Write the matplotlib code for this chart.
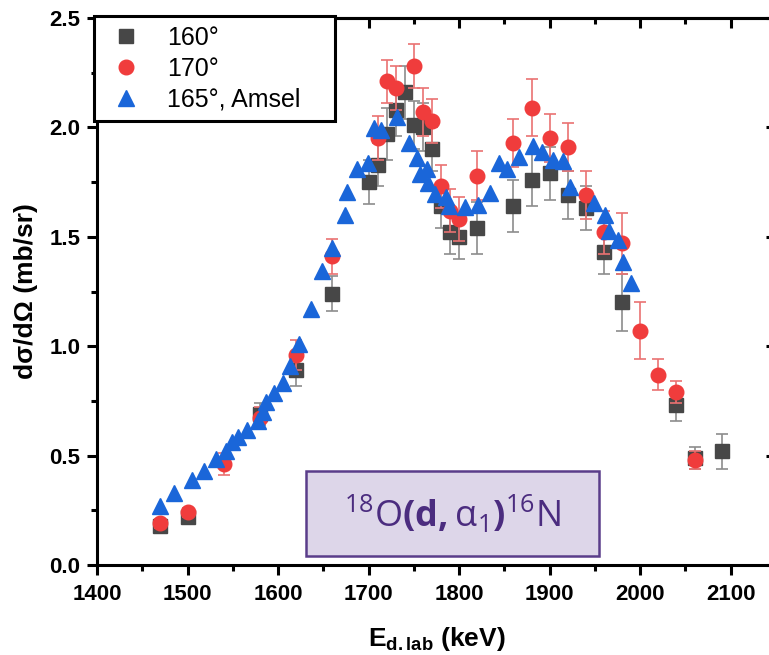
import matplotlib
matplotlib.use("Agg")
import matplotlib.pyplot as plt
from matplotlib.lines import Line2D
from matplotlib.patches import Rectangle
from matplotlib.ticker import MultipleLocator

plt.rcParams['font.family'] = ['Liberation Sans', 'DejaVu Sans']
plt.rcParams['mathtext.fontset'] = 'custom'
plt.rcParams['mathtext.rm'] = 'Open Sans'
plt.rcParams['mathtext.bf'] = 'Open Sans:bold'
plt.rcParams['mathtext.sf'] = 'Liberation Sans:bold'

# ---- data ----
E160 = [1470, 1500, 1580, 1620, 1660, 1700, 1710, 1720, 1730, 1740, 1750, 1760, 1770,
        1780, 1790, 1800, 1820, 1860, 1880, 1900, 1920, 1940, 1960, 1980, 2040, 2060, 2090]
y160 = [0.18, 0.22, 0.69, 0.89, 1.24, 1.75, 1.83, 1.97, 2.08, 2.16, 2.01, 2.00, 1.90,
        1.64, 1.52, 1.50, 1.54, 1.64, 1.76, 1.79, 1.69, 1.63, 1.43, 1.20, 0.73, 0.49, 0.52]
err160 = [0.02, 0.02, 0.05, 0.07, 0.08, 0.10, 0.10, 0.12, 0.12, 0.12, 0.11, 0.11, 0.10,
          0.10, 0.10, 0.10, 0.12, 0.12, 0.12, 0.12, 0.11, 0.10, 0.10, 0.13, 0.07, 0.05, 0.08]

E170 = [1470, 1500, 1540, 1580, 1620, 1660, 1710, 1720, 1730, 1750, 1760, 1770, 1780,
        1790, 1800, 1820, 1860, 1880, 1900, 1920, 1940, 1960, 1980, 2000, 2020, 2040, 2060]
y170 = [0.19, 0.24, 0.46, 0.67, 0.96, 1.41, 1.95, 2.21, 2.18, 2.28, 2.07, 2.03, 1.73,
        1.62, 1.58, 1.78, 1.93, 2.09, 1.95, 1.91, 1.69, 1.52, 1.47, 1.07, 0.87, 0.79, 0.48]
err170 = [0.02, 0.02, 0.05, 0.05, 0.07, 0.08, 0.10, 0.10, 0.10, 0.10, 0.11, 0.10, 0.10,
          0.10, 0.10, 0.11, 0.11, 0.13, 0.11, 0.11, 0.11, 0.10, 0.14, 0.13, 0.07, 0.05, 0.04]

E165 = [1470, 1485, 1505, 1518, 1531, 1543, 1549, 1556, 1566, 1578, 1583, 1587, 1595,
        1605, 1613, 1623, 1636, 1648, 1660, 1674, 1676, 1687, 1699, 1706, 1714, 1731,
        1745, 1753, 1757, 1765, 1766, 1773, 1786, 1789, 1806, 1821, 1834, 1844, 1853,
        1866, 1882, 1891, 1904, 1915, 1923, 1949, 1961, 1965, 1976, 1981, 1990]
y165 = [0.27, 0.33, 0.39, 0.43, 0.485, 0.52, 0.56, 0.585, 0.615, 0.66, 0.70, 0.745, 0.785,
        0.83, 0.91, 1.01, 1.17, 1.345, 1.45, 1.60, 1.706, 1.808, 1.836, 1.996, 1.99, 2.046,
        1.93, 1.862, 1.785, 1.808, 1.744, 1.697, 1.68, 1.64, 1.637, 1.645, 1.70, 1.836, 1.81,
        1.866, 1.913, 1.889, 1.851, 1.846, 1.729, 1.655, 1.60, 1.528, 1.485, 1.386, 1.287]

labels = ['160°', '170°', '165°, Amsel']
xticks = [1400, 1500, 1600, 1700, 1800, 1900, 2000, 2100]
yticks = [0.0, 0.5, 1.0, 1.5, 2.0, 2.5]

c_sq = '#474747'
c_ci = '#f03c3c'
c_tr = '#1a66d9'

fig = plt.figure(figsize=(7.69, 6.55), dpi=100)
ax = fig.add_axes([97/769, 90/655, 679/769, 547/655])

ax.errorbar(E160, y160, yerr=err160, fmt='s', ms=9.5, color=c_sq, mec=c_sq,
            ecolor='#8c8c8c', elinewidth=1.2, capsize=4.5, capthick=1.2, zorder=2)
ax.errorbar(E170, y170, yerr=err170, fmt='o', ms=10.5, color=c_ci, mec=c_ci,
            ecolor='#ea7272', elinewidth=1.2, capsize=4.5, capthick=1.2, zorder=3)
ax.plot(E165, y165, linestyle='none', marker='^', ms=11.5, color=c_tr, zorder=4)

ax.set_xlim(1400, 2150)
ax.set_ylim(0, 2.5)
ax.set_xticks(xticks)
ax.set_yticks(yticks)
ax.xaxis.set_minor_locator(MultipleLocator(50))
ax.yaxis.set_minor_locator(MultipleLocator(0.25))
ax.set_xticklabels([str(t) for t in xticks], fontsize=16, fontweight='bold')
ax.set_yticklabels([f'{t:.1f}' for t in yticks], fontsize=16, fontweight='bold')
ax.tick_params(which='major', direction='out', length=7, width=2.2, pad=5)
ax.tick_params(which='minor', direction='out', length=4, width=2.2)
ax.tick_params(axis='x', which='major', pad=7)
for s in ax.spines.values():
    s.set_linewidth(2.2)

top = ax.secondary_xaxis('top')
top.set_xticks(xticks)
top.xaxis.set_minor_locator(MultipleLocator(50))
top.tick_params(which='major', direction='in', length=7, width=2.2, labeltop=False)
top.tick_params(which='minor', direction='in', length=4, width=2.2)
top.spines['top'].set_linewidth(2.2)
right = ax.secondary_yaxis('right')
right.set_yticks(yticks)
right.yaxis.set_minor_locator(MultipleLocator(0.25))
right.tick_params(which='major', direction='in', length=7, width=2.2, labelright=False)
right.tick_params(which='minor', direction='in', length=4, width=2.2)
right.spines['right'].set_linewidth(2.2)

ax.set_ylabel('dσ/dΩ (mb/sr)', fontsize=19, fontweight='bold')
ax.yaxis.set_label_coords(-0.087, 0.5)
ax.set_xlabel(r'$\mathsf{E_{d.lab}}$ (keV)', fontsize=19, fontweight='bold')
ax.xaxis.set_label_coords(0.5, -0.11)

handles = [
    Line2D([], [], linestyle='none', marker='s', ms=9.5, color=c_sq),
    Line2D([], [], linestyle='none', marker='o', ms=10.5, color=c_ci),
    Line2D([], [], linestyle='none', marker='^', ms=11.5, color=c_tr),
]
leg = ax.legend(handles, labels, loc='upper left', bbox_to_anchor=(-0.005, 0, 0.355, 1.003),
                mode='expand', borderaxespad=0, fontsize=18, fancybox=False,
                framealpha=1, edgecolor='black', borderpad=0.38, labelspacing=0.27,
                handlelength=1.8, handletextpad=0.75)
leg.get_frame().set_linewidth(2.2)
leg.set_zorder(10)

rect = Rectangle((0.3078, 0.0165), 0.4315, 0.1554, transform=ax.transAxes,
                 facecolor='#ddd6e9', edgecolor='#5a3d8a', linewidth=1.8, zorder=6)
ax.add_patch(rect)
ax.text(0.5236, 0.094,
        r'$\mathrm{{}^{18}O}\mathbf{(d,}\mathrm{α_{1}}\mathbf{)}\mathrm{^{16}N}$',
        transform=ax.transAxes, ha='center', va='center', fontsize=26,
        color='#4b2c7f', zorder=7)

fig.savefig('out.png', dpi=100)
